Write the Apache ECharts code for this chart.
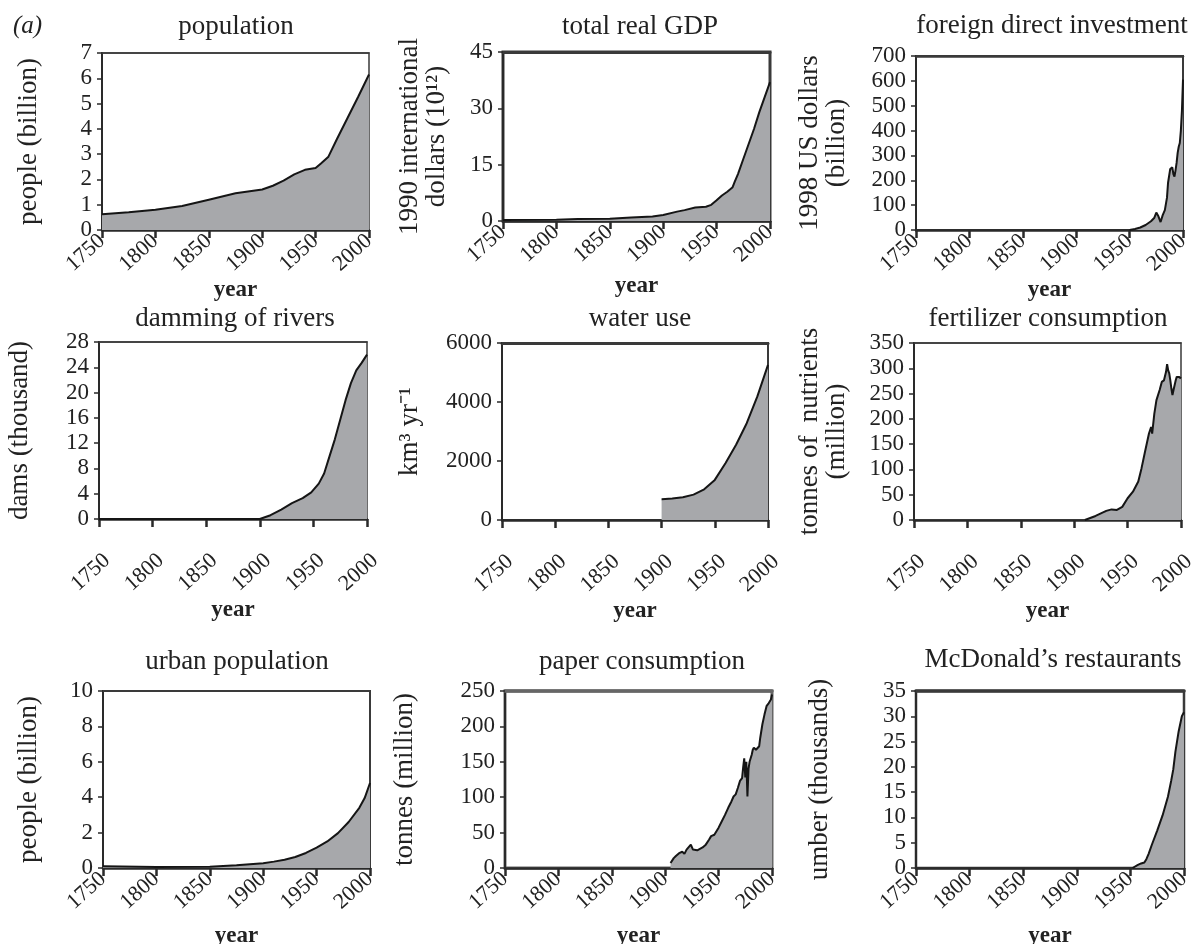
<!DOCTYPE html>
<html><head><meta charset="utf-8">
<script src="https://cdn.jsdelivr.net/npm/echarts@6/dist/echarts.min.js"></script>
<style>html,body{margin:0;padding:0;background:#fff}#c{width:1204px;height:944px}</style>
</head><body><div id="c"></div><script>
// ---- data ----
const yearTicks = [1750, 1800, 1850, 1900, 1950, 2000];

const yearsPopulation = [1750,1775,1800,1825,1850,1875,1900,1910,1920,1930,1940,1950,1955,1962,1970,1980,1990,2000];
const population      = [0.62,0.7,0.8,0.95,1.2,1.45,1.6,1.75,1.95,2.2,2.38,2.45,2.63,2.9,3.6,4.44,5.28,6.15];

const yearsGdp = [1750,1800,1820,1850,1870,1890,1900,1913,1920,1930,1940,1945,1950,1955,1960,1965,1967,1970,1975,1980,1985,1990,1995,2000];
const gdp      = [0.25,0.35,0.5,0.6,0.9,1.2,1.6,2.5,2.9,3.6,3.8,4.3,5.5,6.8,7.8,9,10.5,12.5,16.5,20.5,24.5,29,33,37];

const yearsFdi = [1950,1955,1960,1965,1970,1973,1975,1977,1979,1981,1983,1985,1986,1988,1990,1991,1992,1993,1994,1995,1996,1997,1998,1999,2000];
const fdi      = [0,4,10,20,35,48,70,55,32,60,80,130,190,245,252,225,215,240,270,310,335,350,400,480,605];

const yearsDams = [1750,1900,1910,1920,1930,1940,1948,1955,1960,1965,1970,1975,1980,1985,1990,1995,2000];
const dams      = [0,0,0.6,1.5,2.5,3.3,4.2,5.6,7.2,9.9,12.6,15.7,18.8,21.5,23.5,24.7,26];

const yearsWater = [1900,1910,1920,1930,1940,1950,1960,1970,1980,1990,2000];
const water      = [700,725,770,860,1040,1360,1925,2550,3280,4190,5260];

const yearsFertilizer = [1910,1920,1925,1930,1935,1940,1945,1950,1955,1960,1963,1966,1970,1972,1973,1975,1977,1978,1980,1982,1984,1986,1987,1988,1989,1990,1991,1992,1993,1995,1996,1998,2000];
const fertilizer      = [0,8,13,18,21,20,26,43,56,76,102,132,171,184,171,210,237,240,257,273,276,293,308,296,290,276,260,247,257,276,283,283,280];

const yearsUrban = [1750,1800,1850,1875,1900,1910,1920,1930,1940,1950,1960,1970,1980,1990,1995,2000];
const urban      = [0.1,0.05,0.07,0.15,0.27,0.36,0.47,0.62,0.85,1.15,1.5,1.97,2.6,3.4,3.95,4.8];

const yearsPaper = [1905,1908,1910,1913,1916,1918,1920,1924,1926,1930,1935,1938,1941,1943,1946,1950,1953,1956,1959,1962,1964,1966,1968,1970,1972,1973,1974,1975,1976,1977,1978,1979,1981,1982,1983,1985,1988,1989,1991,1993,1995,1997,1999,2000];
const paper      = [7,14,17,21,23,20,26,33,26,25,29,33,40,45,47,57,66,75,85,94,101,104,113,123,127,142,155,128,150,101,140,150,160,167,170,167,172,184,203,217,229,233,238,245];

const yearsMcd = [1952,1957,1960,1963,1965,1967,1970,1975,1980,1985,1988,1990,1992,1995,1998,2000];
const mcd      = [0,0.6,0.9,1.1,1.8,2.8,4.6,7.4,10.4,14.1,17.2,19.5,23,27,30,30.8];

// ---- layout / style ----
const FONT = "'Liberation Serif','Times New Roman',serif";
const TXT = '#222';
const panels = [
  {title:'population', yName:'people (billion)', xs:yearsPopulation, ys:population, yMax:7, yStep:1,
   g:[102,53,267,177], tx:231, ty:8, yGap:60, xGap:37, lm:8, pad:0, bw:1.5, tw:1.5, bc:'#3a3a3a'},
  {title:'total real GDP', yName:'1990 international\ndollars (10¹²)', xs:yearsGdp, ys:gdp, yMax:45, yStep:15,
   g:[503,52,267,169], tx:635, ty:8, yGap:53, xGap:54, lm:8, pad:0, bw:3, tw:3, bc:'#3a3a3a'},
  {title:'foreign direct investment', yName:'1998 US dollars\n(billion)', xs:yearsFdi, ys:fdi, yMax:700, yStep:100,
   g:[916,56,267,174], tx:1047, ty:7, yGap:66, xGap:37, lm:8, pad:0, bw:2, tw:2.5, bc:'#3a3a3a'},
  {title:'damming of rivers', yName:'dams (thousand)', xs:yearsDams, ys:dams, yMax:28, yStep:4,
   g:[99,342,268,177], tx:230, ty:300, yGap:66, xGap:68, lm:46, pad:-11, bw:1.5, tw:1.5, bc:'#3a3a3a'},
  {title:'water use', yName:'km³ yr⁻¹', xs:yearsWater, ys:water, yMax:6000, yStep:2000,
   g:[502,343,266,177], tx:635, ty:300, yGap:79, xGap:67, lm:46, pad:-11, bw:2, tw:3, bc:'#3a3a3a'},
  {title:'fertilizer consumption', yName:'tonnes of  nutrients\n(million)', xs:yearsFertilizer, ys:fertilizer, yMax:350, yStep:50,
   g:[914,343,267,177], tx:1043, ty:300, yGap:64, xGap:67, lm:46, pad:-11, bw:1.5, tw:1.5, bc:'#3a3a3a'},
  {title:'urban population', yName:'people (billion)', xs:yearsUrban, ys:urban, yMax:10, yStep:2,
   g:[103,691,267,177], tx:232, ty:643, yGap:61, xGap:57, lm:8, pad:0, bw:2, tw:2, bc:'#3a3a3a'},
  {title:'paper consumption', yName:'tonnes (million)', xs:yearsPaper, ys:paper, yMax:250, yStep:50,
   g:[505,691,267,177], tx:637, ty:643, yGap:87, xGap:57, lm:8, pad:0, bw:3, tw:3.5, bc:'#666'},
  {title:'McDonald’s restaurants', yName:'umber (thousands)', xs:yearsMcd, ys:mcd, yMax:35, yStep:5,
   g:[916,691,268,177], tx:1048, ty:641, yGap:83, xGap:57, lm:8, pad:0, bw:2.5, tw:3.5, bc:'#3a3a3a'}
];

const plain = v => String(v);

const option = {
  backgroundColor:'#fff',
  animation:false,
  title:[{text:'(a)', left:8, top:9, textStyle:{fontFamily:FONT, fontStyle:'italic', fontWeight:'normal', fontSize:25, color:TXT}}],
  grid:[], xAxis:[], yAxis:[], series:[]
};

panels.forEach((p, i) => {
  option.title.push({text:p.title, left:p.tx, top:p.ty, textAlign:'center',
    textStyle:{fontFamily:FONT, fontWeight:'normal', fontSize:27, color:TXT}});
  option.grid.push({left:p.g[0], top:p.g[1], width:p.g[2], height:p.g[3], show:true,
    borderColor:p.bc, borderWidth:p.bw, backgroundColor:'#fff', containLabel:false, outerBoundsMode:'none'});
  option.xAxis.push({type:'value', gridIndex:i, min:yearTicks[0], max:yearTicks[yearTicks.length-1], interval:50,
    position:'bottom', name:'year', nameLocation:'middle', nameGap:p.xGap,
    nameTextStyle:{fontFamily:FONT, fontWeight:'bold', fontSize:23, color:TXT},
    axisLine:{show:true, onZero:false, lineStyle:{color:'#2a2a2a', width:2.5}},
    axisTick:{show:true, inside:false, length:8, lineStyle:{color:'#2a2a2a', width:2.5}},
    axisLabel:{fontFamily:FONT, fontSize:22, color:TXT, rotate:42, margin:p.lm, hideOverlap:false,
      formatter:plain, padding:[0, p.pad, 0, 0]},
    splitLine:{show:false}});
  option.xAxis.push({type:'value', gridIndex:i, min:yearTicks[0], max:yearTicks[yearTicks.length-1], position:'top',
    axisLine:{show:true, onZero:false, lineStyle:{color:p.bc, width:p.tw}},
    axisTick:{show:false}, axisLabel:{show:false}, splitLine:{show:false}});
  option.yAxis.push({type:'value', gridIndex:i, min:0, max:p.yMax, interval:p.yStep,
    name:p.yName, nameLocation:'middle', nameGap:p.yGap,
    nameTextStyle:{fontFamily:FONT, fontSize:27, color:TXT, lineHeight:27},
    axisLine:{show:true, onZero:false, lineStyle:{color:'#2a2a2a', width:2}},
    axisTick:{show:true, inside:false, length:5, lineStyle:{color:'#2a2a2a', width:1.5}},
    axisLabel:{fontFamily:FONT, fontSize:23, color:TXT, margin:10, formatter:plain},
    splitLine:{show:false}});
  option.series.push({type:'line', xAxisIndex:i*2, yAxisIndex:i,
    data:p.xs.map((x, k) => [x, p.ys[k]]),
    showSymbol:false, symbol:'none', smooth:false, z:1,
    lineStyle:{color:'#151515', width:2},
    areaStyle:{color:'#a7a8ab', opacity:1}});
});

const chart = echarts.init(document.getElementById('c'), null, {renderer:'canvas'});
chart.setOption(option);
</script></body></html>
